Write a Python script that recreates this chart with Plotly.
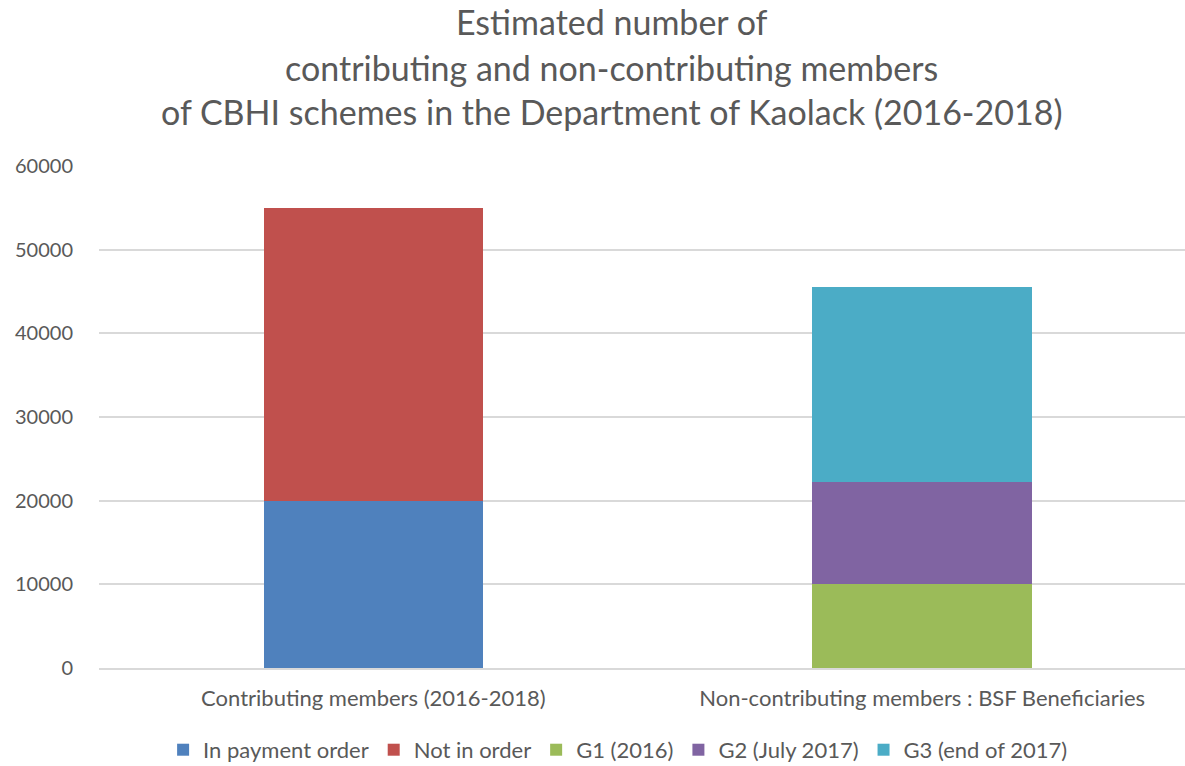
import plotly.graph_objects as go

categories = ["Contributing members (2016-2018)", "Non-contributing members : BSF Beneficiaries"]
series_names = ["In payment order", "Not in order", "G1 (2016)", "G2 (July 2017)", "G3 (end of 2017)"]
in_payment_order = [20000, None]
not_in_order = [35000, None]
g1_2016 = [None, 10100]
g2_july_2017 = [None, 12100]
g3_end_2017 = [None, 23350]
colors = ["#4F81BD", "#C0504D", "#9BBB59", "#8064A2", "#4BACC6"]
y_ticks = [0, 10000, 20000, 30000, 40000, 50000, 60000]
title_lines = ["Estimated number of",
               "contributing and non-contributing members",
               "of CBHI schemes in the Department of Kaolack (2016-2018)"]

FONT = "Lato"
TXT = "#595959"

fig = go.Figure()
for name, vals, col in zip(series_names,
                           [in_payment_order, not_in_order, g1_2016, g2_july_2017, g3_end_2017],
                           colors):
    fig.add_trace(go.Bar(x=categories, y=vals, name=name, marker_color=col,
                         marker_line_width=0, width=0.4))

for i, line in enumerate(title_lines):
    fig.add_annotation(text=line, xref="paper", yref="paper", x=0.472, xanchor="center",
                       y=1.0, yanchor="middle", yshift=[145, 99, 55][i],
                       showarrow=False, font=dict(family=FONT, size=34, color=TXT))

fig.update_layout(
    barmode="stack",
    width=1185, height=766,
    paper_bgcolor="white", plot_bgcolor="white",
    margin=dict(l=98.5, r=0, t=166, b=97.6, autoexpand=False),
    font=dict(family=FONT, color=TXT, size=21),
    showlegend=True,
    legend=dict(orientation="h", x=0.478, xanchor="center",
                yref="container", y=0.021, yanchor="middle",
                font=dict(family=FONT, size=22, color=TXT), traceorder="normal",
                itemwidth=30, tracegroupgap=0),
)
fig.update_xaxes(range=[-0.5, 1.479], showgrid=False, showline=True, linecolor="#D9D9D9",
                 linewidth=1.5, ticks="", tickfont=dict(size=22, color=TXT), fixedrange=True,
                 ticklabelstandoff=10, automargin=False)
fig.update_yaxes(range=[0, 60000], tickvals=y_ticks, ticktext=[str(v) for v in y_ticks],
                 showgrid=True, gridcolor="#D9D9D9",
                 gridwidth=1.5, zeroline=False, showline=False, ticks="",
                 tickfont=dict(size=20, color=TXT), ticklabelstandoff=25, automargin=False)

fig.write_html("out.html")
